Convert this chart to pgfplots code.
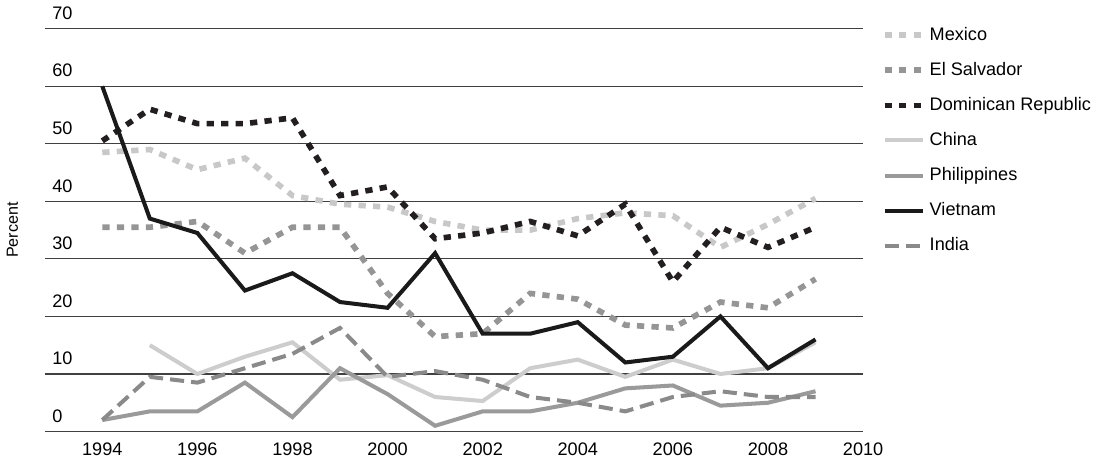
\documentclass[border=0pt]{standalone}
\usepackage{pgfplots}
\pgfplotsset{compat=1.18}
\usepackage{fontspec}
\setmainfont{Liberation Sans}
\definecolor{mex}{HTML}{C8C8C8}
\definecolor{els}{HTML}{959595}
\definecolor{dom}{HTML}{231F20}
\definecolor{chi}{HTML}{CDCDCD}
\definecolor{phi}{HTML}{9A9A9A}
\definecolor{vie}{HTML}{1A1A1A}
\definecolor{ind}{HTML}{8A8A8A}
\begin{document}
\begin{tikzpicture}
\begin{axis}[
  scale only axis, width=406pt, height=200pt,
  xmin=1992.8, xmax=2010, ymin=0, ymax=70,
  axis x line*=bottom, axis y line*=left,
  x axis line style={draw=black!75, line width=0.6pt, -}, y axis line style={draw=none},
  xtick={1994,1996,...,2010}, ytick={0,10,...,70},
  xticklabel style={/pgf/number format/1000 sep={}, font=\small, yshift=-2pt},
  /pgf/number format/assume math mode=true,
  tick style={draw=none},
  ymajorgrids, grid style={draw=black!75, line width=0.6pt},
  yticklabel style={anchor=south west, font=\small, xshift=0pt, yshift=1pt},
  ylabel={Percent}, ylabel style={font=\footnotesize, xshift=0pt, yshift=10pt},
  legend style={at={(1.015,1.025)}, anchor=north west, draw=none, font=\small, row sep=5.4pt, legend cell align=left},
  legend image code/.code={\draw[#1] (0pt,0pt) -- (19pt,0pt);},
  clip=false,
]
\addplot[mex, line width=2.8pt, dash pattern=on 3.6pt off 3.6pt] coordinates {(1994,48.5)(1995,49)(1996,45.5)(1997,47.5)(1998,41)(1999,39.5)(2000,39)(2001,36.5)(2002,35)(2003,35)(2004,37)(2005,38)(2006,37.5)(2007,32)(2008,36)(2009,40.5)};
\addlegendentry{Mexico}
\addplot[els, line width=2.8pt, dash pattern=on 3.6pt off 3.6pt] coordinates {(1994,35.5)(1995,35.5)(1996,36.5)(1997,31)(1998,35.5)(1999,35.5)(2000,24)(2001,16.5)(2002,17)(2003,24)(2004,23)(2005,18.5)(2006,18)(2007,22.5)(2008,21.5)(2009,26.5)};
\addlegendentry{El Salvador}
\addplot[dom, line width=2.8pt, dash pattern=on 3.6pt off 3.6pt] coordinates {(1994,50.5)(1995,56)(1996,53.5)(1997,53.5)(1998,54.5)(1999,41)(2000,42.5)(2001,33.5)(2002,34.5)(2003,36.5)(2004,34)(2005,39.5)(2006,26)(2007,35.5)(2008,32)(2009,35.5)};
\addlegendentry{Dominican Republic}
\addplot[chi, line width=2pt] coordinates {(1995,15)(1996,10)(1997,13)(1998,15.5)(1999,9)(2000,9.8)(2001,6)(2002,5.3)(2003,11)(2004,12.5)(2005,9.5)(2006,12.5)(2007,10)(2008,11)(2009,15.5)};
\addlegendentry{China}
\addplot[phi, line width=2pt] coordinates {(1994,2)(1995,3.5)(1996,3.5)(1997,8.5)(1998,2.5)(1999,11)(2000,6.5)(2001,1)(2002,3.5)(2003,3.5)(2004,5)(2005,7.5)(2006,8)(2007,4.5)(2008,5)(2009,7)};
\addlegendentry{Philippines}
\addplot[vie, line width=2pt] coordinates {(1994,60)(1995,37)(1996,34.5)(1997,24.5)(1998,27.5)(1999,22.5)(2000,21.5)(2001,31)(2002,17)(2003,17)(2004,19)(2005,12)(2006,13)(2007,20)(2008,11)(2009,16)};
\addlegendentry{Vietnam}
\addplot[ind, line width=2pt, dash pattern=on 7pt off 3.5pt] coordinates {(1994,2)(1995,9.5)(1996,8.5)(1997,11)(1998,13.5)(1999,18)(2000,9.5)(2001,10.5)(2002,9)(2003,6)(2004,5)(2005,3.5)(2006,6)(2007,7)(2008,6)(2009,6)};
\addlegendentry{India}
\end{axis}
\end{tikzpicture}
\end{document}
